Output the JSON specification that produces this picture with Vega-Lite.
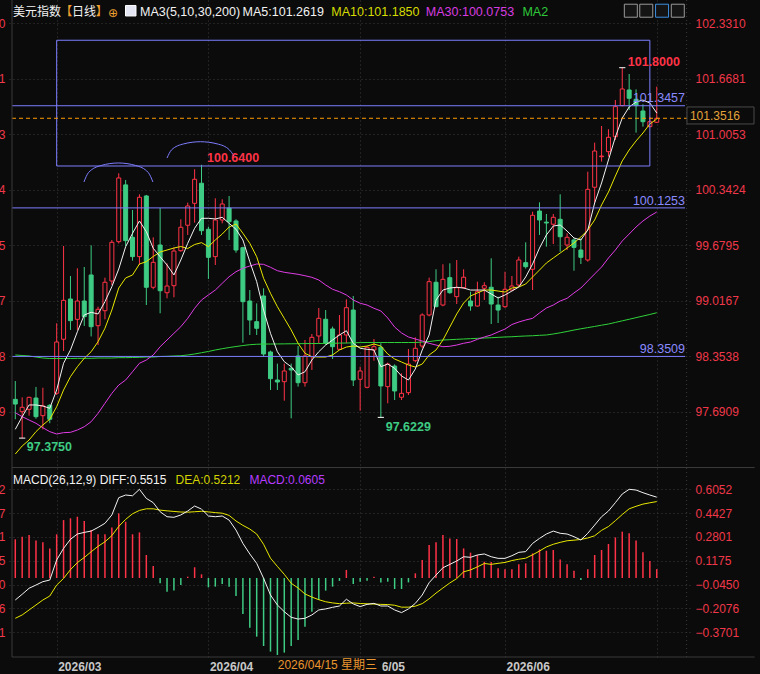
{
"$schema": "https://vega.github.io/schema/vega-lite/v6.json",
"width": 683, "height": 657,
"autosize": {"type": "none"},
"padding": {"left": 7, "top": 0, "right": 70, "bottom": 17},
"background": "#0b0b0b",
"config": {"view": {"stroke": null}, "font": "Liberation Sans"},
"data": {"values": [
{"i":0,"o":97.838,"h":98.057,"l":97.600,"c":97.782,"m5":97.480,"m10":97.185,"m30":97.679,"m200":98.368,"dif":-0.150,"dea":-0.275,"macd":0.264},
{"i":1,"o":97.691,"h":97.862,"l":97.375,"c":97.743,"m5":97.631,"m10":97.281,"m30":97.631,"m200":98.362,"dif":-0.111,"dea":-0.252,"macd":0.282},
{"i":2,"o":97.719,"h":97.870,"l":97.643,"c":97.862,"m5":97.771,"m10":97.352,"m30":97.591,"m200":98.356,"dif":-0.070,"dea":-0.218,"macd":0.293},
{"i":3,"o":97.854,"h":97.986,"l":97.607,"c":97.631,"m5":97.771,"m10":97.452,"m30":97.552,"m200":98.344,"dif":-0.048,"dea":-0.184,"macd":0.255},
{"i":4,"o":97.643,"h":97.977,"l":97.480,"c":97.759,"m5":97.759,"m10":97.532,"m30":97.499,"m200":98.332,"dif":-0.025,"dea":-0.150,"macd":0.243},
{"i":5,"o":97.767,"h":97.782,"l":97.553,"c":97.600,"m5":97.731,"m10":97.600,"m30":97.452,"m200":98.326,"dif":-0.014,"dea":-0.123,"macd":0.202},
{"i":6,"o":97.911,"h":98.747,"l":97.890,"c":98.523,"m5":97.950,"m10":97.750,"m30":97.424,"m200":98.326,"dif":0.123,"dea":-0.048,"macd":0.298},
{"i":7,"o":98.556,"h":99.670,"l":98.416,"c":99.021,"m5":98.269,"m10":97.950,"m30":97.440,"m200":98.326,"dif":0.202,"dea":-0.003,"macd":0.395},
{"i":8,"o":99.037,"h":99.312,"l":98.667,"c":98.778,"m5":98.428,"m10":98.109,"m30":97.444,"m200":98.326,"dif":0.264,"dea":0.057,"macd":0.407},
{"i":9,"o":98.794,"h":99.404,"l":98.667,"c":99.013,"m5":98.646,"m10":98.228,"m30":97.472,"m200":98.328,"dif":0.300,"dea":0.105,"macd":0.418},
{"i":10,"o":99.013,"h":99.419,"l":98.715,"c":98.826,"m5":98.846,"m10":98.328,"m30":97.511,"m200":98.328,"dif":0.311,"dea":0.140,"macd":0.389},
{"i":11,"o":99.324,"h":99.678,"l":98.590,"c":98.706,"m5":98.878,"m10":98.407,"m30":97.571,"m200":98.328,"dif":0.320,"dea":0.179,"macd":0.327},
{"i":12,"o":98.718,"h":98.945,"l":98.487,"c":98.914,"m5":98.858,"m10":98.527,"m30":97.671,"m200":98.332,"dif":0.345,"dea":0.216,"macd":0.298},
{"i":13,"o":98.897,"h":99.292,"l":98.794,"c":99.237,"m5":99.005,"m10":98.687,"m30":97.791,"m200":98.332,"dif":0.373,"dea":0.247,"macd":0.298},
{"i":14,"o":99.252,"h":99.742,"l":99.204,"c":99.714,"m5":99.184,"m10":98.905,"m30":97.910,"m200":98.332,"dif":0.430,"dea":0.289,"macd":0.345},
{"i":15,"o":99.722,"h":100.539,"l":99.700,"c":100.483,"m5":99.395,"m10":99.168,"m30":98.009,"m200":98.336,"dif":0.548,"dea":0.352,"macd":0.441},
{"i":16,"o":100.400,"h":100.459,"l":99.670,"c":99.734,"m5":99.662,"m10":99.288,"m30":98.069,"m200":98.336,"dif":0.566,"dea":0.400,"macd":0.384},
{"i":17,"o":99.774,"h":100.100,"l":99.495,"c":99.543,"m5":99.822,"m10":99.324,"m30":98.168,"m200":98.338,"dif":0.561,"dea":0.438,"macd":0.298},
{"i":18,"o":99.543,"h":100.288,"l":99.443,"c":100.252,"m5":99.969,"m10":99.455,"m30":98.269,"m200":98.340,"dif":0.605,"dea":0.461,"macd":0.311},
{"i":19,"o":100.268,"h":100.280,"l":98.965,"c":99.177,"m5":99.841,"m10":99.483,"m30":98.308,"m200":98.344,"dif":0.543,"dea":0.472,"macd":0.157},
{"i":20,"o":99.177,"h":99.774,"l":99.153,"c":99.475,"m5":99.643,"m10":99.545,"m30":98.368,"m200":98.344,"dif":0.514,"dea":0.472,"macd":0.082},
{"i":21,"o":99.682,"h":100.124,"l":98.866,"c":99.136,"m5":99.542,"m10":99.598,"m30":98.467,"m200":98.350,"dif":0.452,"dea":0.463,"macd":-0.036},
{"i":22,"o":99.112,"h":99.463,"l":99.045,"c":99.192,"m5":99.443,"m10":99.622,"m30":98.547,"m200":98.352,"dif":0.418,"dea":0.458,"macd":-0.093},
{"i":23,"o":99.196,"h":99.654,"l":99.057,"c":99.610,"m5":99.324,"m10":99.646,"m30":98.627,"m200":98.356,"dif":0.414,"dea":0.454,"macd":-0.086},
{"i":24,"o":99.614,"h":99.989,"l":99.602,"c":99.894,"m5":99.503,"m10":99.664,"m30":98.706,"m200":98.359,"dif":0.430,"dea":0.450,"macd":-0.048},
{"i":25,"o":99.918,"h":100.188,"l":99.802,"c":100.148,"m5":99.702,"m10":99.640,"m30":98.806,"m200":98.368,"dif":0.457,"dea":0.449,"macd":0.009},
{"i":26,"o":100.180,"h":100.587,"l":99.949,"c":100.467,"m5":99.882,"m10":99.688,"m30":98.926,"m200":98.380,"dif":0.491,"dea":0.452,"macd":0.073},
{"i":27,"o":100.420,"h":100.640,"l":99.802,"c":99.853,"m5":100.001,"m10":99.710,"m30":99.025,"m200":98.395,"dif":0.470,"dea":0.455,"macd":0.025},
{"i":28,"o":99.870,"h":99.901,"l":99.276,"c":99.535,"m5":100.001,"m10":99.662,"m30":99.085,"m200":98.410,"dif":0.423,"dea":0.451,"macd":-0.064},
{"i":29,"o":99.543,"h":100.240,"l":99.443,"c":99.981,"m5":99.993,"m10":99.742,"m30":99.144,"m200":98.428,"dif":0.418,"dea":0.446,"macd":-0.059},
{"i":30,"o":99.981,"h":100.228,"l":99.941,"c":100.172,"m5":100.013,"m10":99.813,"m30":99.224,"m200":98.443,"dif":0.423,"dea":0.442,"macd":-0.041},
{"i":31,"o":100.124,"h":100.268,"l":99.742,"c":99.961,"m5":99.941,"m10":99.897,"m30":99.303,"m200":98.457,"dif":0.395,"dea":0.427,"macd":-0.059},
{"i":32,"o":99.969,"h":99.989,"l":99.590,"c":99.622,"m5":99.870,"m10":99.933,"m30":99.363,"m200":98.469,"dif":0.327,"dea":0.389,"macd":-0.123},
{"i":33,"o":99.650,"h":99.662,"l":98.515,"c":99.005,"m5":99.742,"m10":99.822,"m30":99.404,"m200":98.481,"dif":0.236,"dea":0.359,"macd":-0.245},
{"i":34,"o":99.013,"h":99.144,"l":98.607,"c":98.786,"m5":99.483,"m10":99.702,"m30":99.431,"m200":98.491,"dif":0.164,"dea":0.334,"macd":-0.339},
{"i":35,"o":98.766,"h":98.985,"l":98.607,"c":98.687,"m5":99.244,"m10":99.542,"m30":99.455,"m200":98.496,"dif":0.100,"dea":0.300,"macd":-0.400},
{"i":36,"o":99.073,"h":99.165,"l":98.348,"c":98.380,"m5":98.905,"m10":99.284,"m30":99.451,"m200":98.499,"dif":-0.002,"dea":0.230,"macd":-0.464},
{"i":37,"o":98.404,"h":98.420,"l":97.950,"c":98.085,"m5":98.627,"m10":99.105,"m30":99.416,"m200":98.499,"dif":-0.116,"dea":0.135,"macd":-0.502},
{"i":38,"o":98.069,"h":98.265,"l":97.950,"c":98.045,"m5":98.407,"m10":98.945,"m30":99.375,"m200":98.500,"dif":-0.184,"dea":0.079,"macd":-0.525},
{"i":39,"o":98.049,"h":98.265,"l":97.822,"c":98.177,"m5":98.288,"m10":98.806,"m30":99.356,"m200":98.501,"dif":-0.230,"dea":0.025,"macd":-0.509},
{"i":40,"o":98.209,"h":98.265,"l":97.611,"c":98.189,"m5":98.228,"m10":98.667,"m30":99.344,"m200":98.502,"dif":-0.268,"dea":-0.036,"macd":-0.464},
{"i":41,"o":98.356,"h":98.475,"l":97.990,"c":98.037,"m5":98.129,"m10":98.508,"m30":99.332,"m200":98.503,"dif":-0.280,"dea":-0.068,"macd":-0.423},
{"i":42,"o":98.037,"h":98.547,"l":97.990,"c":98.356,"m5":98.168,"m10":98.388,"m30":99.315,"m200":98.504,"dif":-0.275,"dea":-0.109,"macd":-0.332},
{"i":43,"o":98.348,"h":98.619,"l":98.189,"c":98.579,"m5":98.308,"m10":98.348,"m30":99.296,"m200":98.505,"dif":-0.252,"dea":-0.130,"macd":-0.230},
{"i":44,"o":98.595,"h":98.929,"l":98.510,"c":98.806,"m5":98.407,"m10":98.344,"m30":99.264,"m200":98.505,"dif":-0.218,"dea":-0.148,"macd":-0.150},
{"i":45,"o":98.795,"h":98.905,"l":98.490,"c":98.508,"m5":98.487,"m10":98.344,"m30":99.204,"m200":98.507,"dif":-0.211,"dea":-0.162,"macd":-0.086},
{"i":46,"o":98.679,"h":98.707,"l":98.320,"c":98.467,"m5":98.547,"m10":98.368,"m30":99.153,"m200":98.507,"dif":-0.200,"dea":-0.170,"macd":-0.059},
{"i":47,"o":98.436,"h":98.846,"l":98.428,"c":98.607,"m5":98.607,"m10":98.428,"m30":99.124,"m200":98.510,"dif":-0.191,"dea":-0.175,"macd":-0.020},
{"i":48,"o":98.607,"h":99.033,"l":98.508,"c":98.933,"m5":98.658,"m10":98.463,"m30":99.085,"m200":98.511,"dif":-0.145,"dea":-0.172,"macd":0.055},
{"i":49,"o":98.905,"h":99.073,"l":97.997,"c":98.069,"m5":98.508,"m10":98.475,"m30":99.025,"m200":98.514,"dif":-0.177,"dea":-0.170,"macd":-0.041},
{"i":50,"o":98.078,"h":98.228,"l":97.702,"c":98.177,"m5":98.448,"m10":98.463,"m30":98.986,"m200":98.516,"dif":-0.195,"dea":-0.174,"macd":-0.025},
{"i":51,"o":97.982,"h":98.475,"l":97.970,"c":98.460,"m5":98.436,"m10":98.475,"m30":98.965,"m200":98.517,"dif":-0.180,"dea":-0.176,"macd":-0.018},
{"i":52,"o":98.428,"h":98.559,"l":98.300,"c":98.467,"m5":98.428,"m10":98.499,"m30":98.926,"m200":98.517,"dif":-0.173,"dea":-0.178,"macd":0.009},
{"i":53,"o":98.460,"h":98.508,"l":97.623,"c":97.998,"m5":98.228,"m10":98.475,"m30":98.894,"m200":98.517,"dif":-0.191,"dea":-0.180,"macd":-0.030},
{"i":54,"o":97.990,"h":98.276,"l":97.791,"c":98.260,"m5":98.260,"m10":98.380,"m30":98.810,"m200":98.517,"dif":-0.191,"dea":-0.181,"macd":-0.025},
{"i":55,"o":98.236,"h":98.256,"l":97.830,"c":97.938,"m5":98.209,"m10":98.320,"m30":98.702,"m200":98.517,"dif":-0.218,"dea":-0.186,"macd":-0.075},
{"i":56,"o":97.863,"h":98.149,"l":97.830,"c":97.910,"m5":98.117,"m10":98.284,"m30":98.631,"m200":98.517,"dif":-0.236,"dea":-0.199,"macd":-0.075},
{"i":57,"o":97.918,"h":98.439,"l":97.890,"c":98.260,"m5":98.069,"m10":98.248,"m30":98.583,"m200":98.517,"dif":-0.211,"dea":-0.199,"macd":-0.030},
{"i":58,"o":98.300,"h":98.579,"l":98.280,"c":98.448,"m5":98.201,"m10":98.224,"m30":98.559,"m200":98.517,"dif":-0.173,"dea":-0.192,"macd":0.032},
{"i":59,"o":98.475,"h":98.866,"l":98.450,"c":98.846,"m5":98.428,"m10":98.260,"m30":98.535,"m200":98.523,"dif":-0.116,"dea":-0.175,"macd":0.123},
{"i":60,"o":98.846,"h":99.292,"l":98.830,"c":99.244,"m5":98.607,"m10":98.368,"m30":98.508,"m200":98.529,"dif":-0.032,"dea":-0.142,"macd":0.225},
{"i":61,"o":99.237,"h":99.392,"l":98.938,"c":98.945,"m5":99.025,"m10":98.428,"m30":98.487,"m200":98.539,"dif":0.020,"dea":-0.103,"macd":0.243},
{"i":62,"o":98.965,"h":99.452,"l":98.950,"c":99.272,"m5":99.144,"m10":98.547,"m30":98.467,"m200":98.547,"dif":0.070,"dea":-0.068,"macd":0.293},
{"i":63,"o":99.292,"h":99.463,"l":99.100,"c":99.112,"m5":99.168,"m10":98.702,"m30":98.472,"m200":98.551,"dif":0.093,"dea":-0.034,"macd":0.270},
{"i":64,"o":99.065,"h":99.503,"l":98.977,"c":99.172,"m5":99.177,"m10":98.858,"m30":98.487,"m200":98.555,"dif":0.116,"dea":-0.004,"macd":0.266},
{"i":65,"o":99.172,"h":99.392,"l":99.160,"c":99.297,"m5":99.168,"m10":98.989,"m30":98.508,"m200":98.559,"dif":0.145,"dea":0.042,"macd":0.202},
{"i":66,"o":99.013,"h":99.124,"l":98.897,"c":98.953,"m5":99.144,"m10":99.073,"m30":98.523,"m200":98.563,"dif":0.141,"dea":0.055,"macd":0.173},
{"i":67,"o":98.953,"h":99.244,"l":98.945,"c":99.124,"m5":99.144,"m10":99.109,"m30":98.555,"m200":98.567,"dif":0.157,"dea":0.076,"macd":0.157},
{"i":68,"o":99.165,"h":99.237,"l":99.025,"c":99.196,"m5":99.144,"m10":99.144,"m30":98.583,"m200":98.571,"dif":0.164,"dea":0.099,"macd":0.111},
{"i":69,"o":99.177,"h":99.523,"l":98.738,"c":98.977,"m5":99.097,"m10":99.144,"m30":98.607,"m200":98.574,"dif":0.145,"dea":0.093,"macd":0.109},
{"i":70,"o":98.965,"h":99.065,"l":98.750,"c":98.905,"m5":99.049,"m10":99.132,"m30":98.643,"m200":98.579,"dif":0.134,"dea":0.100,"macd":0.066},
{"i":71,"o":98.945,"h":99.363,"l":98.930,"c":99.153,"m5":99.085,"m10":99.120,"m30":98.678,"m200":98.583,"dif":0.134,"dea":0.106,"macd":0.059},
{"i":72,"o":99.144,"h":99.312,"l":99.130,"c":99.192,"m5":99.132,"m10":99.168,"m30":98.732,"m200":98.586,"dif":0.152,"dea":0.119,"macd":0.059},
{"i":73,"o":99.204,"h":99.543,"l":99.190,"c":99.503,"m5":99.180,"m10":99.180,"m30":98.762,"m200":98.591,"dif":0.175,"dea":0.128,"macd":0.093},
{"i":74,"o":99.471,"h":99.714,"l":99.400,"c":99.423,"m5":99.300,"m10":99.216,"m30":98.786,"m200":98.595,"dif":0.180,"dea":0.135,"macd":0.100},
{"i":75,"o":99.392,"h":100.080,"l":99.144,"c":100.037,"m5":99.455,"m10":99.300,"m30":98.806,"m200":98.598,"dif":0.236,"dea":0.158,"macd":0.168},
{"i":76,"o":100.088,"h":100.192,"l":99.802,"c":99.981,"m5":99.646,"m10":99.383,"m30":98.870,"m200":98.603,"dif":0.270,"dea":0.184,"macd":0.195},
{"i":77,"o":99.955,"h":100.053,"l":99.662,"c":99.945,"m5":99.802,"m10":99.467,"m30":98.929,"m200":98.607,"dif":0.300,"dea":0.212,"macd":0.186},
{"i":78,"o":99.930,"h":100.053,"l":99.694,"c":100.013,"m5":99.909,"m10":99.527,"m30":98.965,"m200":98.619,"dif":0.320,"dea":0.230,"macd":0.191},
{"i":79,"o":99.989,"h":100.288,"l":99.602,"c":99.781,"m5":99.921,"m10":99.586,"m30":99.013,"m200":98.633,"dif":0.305,"dea":0.243,"macd":0.127},
{"i":80,"o":99.682,"h":99.822,"l":99.622,"c":99.774,"m5":99.849,"m10":99.646,"m30":99.045,"m200":98.649,"dif":0.300,"dea":0.254,"macd":0.093},
{"i":81,"o":99.742,"h":99.762,"l":99.375,"c":99.654,"m5":99.766,"m10":99.706,"m30":99.109,"m200":98.666,"dif":0.282,"dea":0.258,"macd":0.050},
{"i":82,"o":99.622,"h":99.762,"l":99.455,"c":99.535,"m5":99.742,"m10":99.778,"m30":99.168,"m200":98.681,"dif":0.259,"dea":0.263,"macd":-0.014},
{"i":83,"o":99.503,"h":100.558,"l":99.483,"c":100.347,"m5":99.861,"m10":99.861,"m30":99.252,"m200":98.695,"dif":0.305,"dea":0.273,"macd":0.059},
{"i":84,"o":100.372,"h":100.905,"l":100.188,"c":100.805,"m5":100.184,"m10":99.981,"m30":99.336,"m200":98.709,"dif":0.361,"dea":0.288,"macd":0.157},
{"i":85,"o":100.737,"h":101.104,"l":100.678,"c":100.745,"m5":100.423,"m10":100.160,"m30":99.419,"m200":98.724,"dif":0.418,"dea":0.325,"macd":0.191},
{"i":86,"o":100.797,"h":101.065,"l":100.737,"c":100.969,"m5":100.698,"m10":100.315,"m30":99.527,"m200":98.738,"dif":0.457,"dea":0.351,"macd":0.232},
{"i":87,"o":100.976,"h":101.415,"l":100.937,"c":101.335,"m5":100.972,"m10":100.506,"m30":99.622,"m200":98.757,"dif":0.514,"dea":0.391,"macd":0.277},
{"i":88,"o":101.347,"h":101.800,"l":101.340,"c":101.546,"m5":101.199,"m10":100.686,"m30":99.730,"m200":98.776,"dif":0.573,"dea":0.433,"macd":0.316},
{"i":89,"o":101.534,"h":101.725,"l":101.295,"c":101.435,"m5":101.331,"m10":100.817,"m30":99.813,"m200":98.795,"dif":0.605,"dea":0.472,"macd":0.305},
{"i":90,"o":101.423,"h":101.542,"l":101.024,"c":101.347,"m5":101.390,"m10":100.925,"m30":99.897,"m200":98.814,"dif":0.600,"dea":0.489,"macd":0.255},
{"i":91,"o":101.283,"h":101.363,"l":101.096,"c":101.155,"m5":101.414,"m10":101.020,"m30":99.969,"m200":98.833,"dif":0.582,"dea":0.504,"macd":0.175},
{"i":92,"o":101.096,"h":101.215,"l":101.090,"c":101.155,"m5":101.379,"m10":101.128,"m30":100.028,"m200":98.852,"dif":0.566,"dea":0.513,"macd":0.116},
{"i":93,"o":101.148,"h":101.574,"l":101.140,"c":101.196,"m5":101.259,"m10":101.187,"m30":100.076,"m200":98.873,"dif":0.5515,"dea":0.5212,"macd":0.0605}
]},
"layer": [
{"mark": {"type": "point", "opacity": 0},
 "encoding": {
  "x": {"field": "i", "type": "quantitative", "scale": {"domain": [-0.476, 97.096], "nice": false, "zero": false},
   "axis": {"orient": "bottom", "values": [6, 28, 50, 71, 93], "labelExpr": "datum.value==6?'2026/03':datum.value==28?'2026/04':datum.value==50?'2026/05':datum.value==71?'2026/06':''", "grid": true, "gridColor": "#3a3a3a", "gridDash": [1, 3], "domain": false, "ticks": false, "labelAlign": "left", "labelOffset": 1, "labelPadding": 4, "labelColor": "#c8c8c8", "labelFontWeight": "bold", "labelFontSize": 12, "labelFont": "Liberation Sans", "labelBound": false, "labelFlush": false, "labelOverlap": false, "title": null}},
  "y": {"field": "h", "type": "quantitative", "scale": {"domain": [94.76, 102.609], "nice": false, "zero": false},
   "axis": {"orient": "right", "values": [97.6909, 98.3538, 99.0167, 99.6795, 100.3424, 101.0053, 101.6681, 102.331], "format": ".4f", "grid": true, "gridColor": "#3a3a3a", "gridDash": [1, 3], "domain": false, "ticks": false, "labelPadding": 5, "labelColor": "#f0384a", "labelFontSize": 12, "labelFont": "Liberation Sans", "labelBound": false, "labelFlush": false, "labelOverlap": false, "title": null}}}},
{"mark": {"type": "point", "opacity": 0},
 "encoding": {
  "x": {"field": "i", "type": "quantitative", "axis": null},
  "y": {"field": "macd", "type": "quantitative", "scale": {"domain": [-0.5389, 3.9427], "nice": false, "zero": false},
   "axis": {"orient": "right", "values": [0.6052, 0.4427, 0.2801, 0.1175, -0.045, -0.2076, -0.3701], "format": ".4f", "grid": true, "gridColor": "#3a3a3a", "gridDash": [1, 3], "domain": false, "ticks": false, "labelPadding": 5, "labelColor": "#f0384a", "labelFontSize": 12, "labelFont": "Liberation Sans", "labelBound": false, "labelFlush": false, "labelOverlap": false, "title": null}}}},
{"mark": {"type": "point", "opacity": 0},
 "encoding": {
  "x": {"field": "i", "type": "quantitative", "axis": null},
  "y": {"field": "h", "type": "quantitative", "scale": {"domain": [94.76, 102.609], "nice": false, "zero": false},
   "axis": {"orient": "left", "values": [97.6909, 98.3538, 99.0167, 99.6795, 100.3424, 101.0053, 101.6681, 102.331], "format": ".4f", "grid": false, "domain": false, "ticks": false, "labelPadding": 2, "labelColor": "#f0384a", "labelFontSize": 12, "labelFont": "Liberation Sans", "labelBound": false, "labelFlush": false, "labelOverlap": false, "title": null}}}},
{"mark": {"type": "point", "opacity": 0},
 "encoding": {
  "x": {"field": "i", "type": "quantitative", "axis": null},
  "y": {"field": "macd", "type": "quantitative", "scale": {"domain": [-0.5389, 3.9427], "nice": false, "zero": false},
   "axis": {"orient": "left", "values": [0.6052, 0.4427, 0.2801, 0.1175, -0.045, -0.2076, -0.3701], "format": ".4f", "grid": false, "domain": false, "ticks": false, "labelPadding": 2, "labelColor": "#f0384a", "labelFontSize": 12, "labelFont": "Liberation Sans", "labelBound": false, "labelFlush": false, "labelOverlap": false, "title": null}}}},
{"layer": [
 {"mark": {"type": "rule", "strokeWidth": 1},
  "encoding": {
   "x": {"field": "i", "type": "quantitative", "axis": null},
   "y": {"field": "l", "type": "quantitative", "scale": {"domain": [94.76, 102.609], "nice": false, "zero": false}, "axis": null},
   "y2": {"field": "h"},
   "color": {"condition": {"test": "datum.c >= datum.o", "value": "#ff3347"}, "value": "#3ecb83"}}},
 {"mark": {"type": "bar", "size": 4, "strokeWidth": 1},
  "encoding": {
   "x": {"field": "i", "type": "quantitative", "axis": null},
   "y": {"field": "o", "type": "quantitative", "axis": null},
   "y2": {"field": "c"},
   "fill": {"condition": {"test": "datum.c >= datum.o", "value": "#0b0b0b"}, "value": "#3ecb83"},
   "stroke": {"condition": {"test": "datum.c >= datum.o", "value": "#ff3347"}, "value": "#3ecb83"}}},
 {"mark": {"type": "line", "strokeWidth": 1, "color": "#2fd23a"},
  "encoding": {"x": {"field": "i", "type": "quantitative", "axis": null}, "y": {"field": "m200", "type": "quantitative", "axis": null}}},
 {"mark": {"type": "line", "strokeWidth": 1, "color": "#e03ce6"},
  "encoding": {"x": {"field": "i", "type": "quantitative", "axis": null}, "y": {"field": "m30", "type": "quantitative", "axis": null}}},
 {"mark": {"type": "line", "strokeWidth": 1, "color": "#e8e800"},
  "encoding": {"x": {"field": "i", "type": "quantitative", "axis": null}, "y": {"field": "m10", "type": "quantitative", "axis": null}}},
 {"mark": {"type": "line", "strokeWidth": 1, "color": "#f2f2f2"},
  "encoding": {"x": {"field": "i", "type": "quantitative", "axis": null}, "y": {"field": "m5", "type": "quantitative", "axis": null}}},
 {"data": {"values": [{}]}, "mark": {"type": "rule", "stroke": "#ffffff", "strokeWidth": 1},
  "encoding": {"x": {"datum": 87.55, "type": "quantitative", "axis": null}, "x2": {"datum": 88.45}, "y": {"datum": 101.8, "type": "quantitative", "axis": null}}},
 {"data": {"values": [{}]}, "mark": {"type": "rule", "stroke": "#ffffff", "strokeWidth": 1},
  "encoding": {"x": {"datum": 0.55, "type": "quantitative", "axis": null}, "x2": {"datum": 1.45}, "y": {"datum": 97.375, "type": "quantitative", "axis": null}}},
 {"data": {"values": [{}]}, "mark": {"type": "rule", "stroke": "#ffffff", "strokeWidth": 1},
  "encoding": {"x": {"datum": 52.55, "type": "quantitative", "axis": null}, "x2": {"datum": 53.45}, "y": {"datum": 97.6229, "type": "quantitative", "axis": null}}},
 {"data": {"values": [{}]}, "mark": {"type": "rect", "fill": "#000000", "fillOpacity": 0, "stroke": "#7d7dff", "strokeWidth": 1},
  "encoding": {"x": {"datum": 6.0, "type": "quantitative", "axis": null}, "x2": {"datum": 92.0}, "y": {"datum": 102.128, "type": "quantitative", "axis": null}, "y2": {"datum": 100.626}}},
 {"data": {"values": [{}]}, "mark": {"type": "rule", "stroke": "#7d7dff", "strokeWidth": 1},
  "encoding": {"x": {"datum": -0.476, "type": "quantitative", "axis": null}, "x2": {"datum": 97.096}, "y": {"datum": 101.3457, "type": "quantitative", "axis": null}}},
 {"data": {"values": [{}]}, "mark": {"type": "rule", "stroke": "#7d7dff", "strokeWidth": 1},
  "encoding": {"x": {"datum": -0.476, "type": "quantitative", "axis": null}, "x2": {"datum": 97.096}, "y": {"datum": 100.1253, "type": "quantitative", "axis": null}}},
 {"data": {"values": [{}]}, "mark": {"type": "rule", "stroke": "#7d7dff", "strokeWidth": 1},
  "encoding": {"x": {"datum": -0.476, "type": "quantitative", "axis": null}, "x2": {"datum": 97.096}, "y": {"datum": 98.3509, "type": "quantitative", "axis": null}}},
 {"data": {"values": [{"i": 9.952, "p": 100.435}, {"i": 10.624, "p": 100.548}, {"i": 12.453, "p": 100.632}, {"i": 14.952, "p": 100.662}, {"i": 17.453, "p": 100.632}, {"i": 19.281, "p": 100.548}, {"i": 19.952, "p": 100.435}]},
  "mark": {"type": "line", "interpolate": "monotone", "stroke": "#7d7dff", "strokeWidth": 1},
  "encoding": {"x": {"field": "i", "type": "quantitative", "axis": null}, "y": {"field": "p", "type": "quantitative", "axis": null}}},
 {"data": {"values": [{"i": 22.0, "p": 100.721}, {"i": 22.65, "p": 100.818}, {"i": 24.42, "p": 100.89}, {"i": 26.85, "p": 100.916}, {"i": 29.28, "p": 100.89}, {"i": 31.05, "p": 100.818}, {"i": 31.71, "p": 100.745}]},
  "mark": {"type": "line", "interpolate": "monotone", "stroke": "#7d7dff", "strokeWidth": 1},
  "encoding": {"x": {"field": "i", "type": "quantitative", "axis": null}, "y": {"field": "p", "type": "quantitative", "axis": null}}},
 {"data": {"values": [{}]}, "mark": {"type": "rule", "stroke": "#ff9a00", "strokeWidth": 1, "strokeDash": [4, 3]},
  "encoding": {"x": {"datum": -0.476, "type": "quantitative", "axis": null}, "x2": {"datum": 97.38}, "y": {"datum": 101.196, "type": "quantitative", "axis": null}}},
 {"data": {"values": [{}]}, "mark": {"type": "rect", "fill": "#0b0b0b", "stroke": "#4a4a4a", "strokeWidth": 1},
  "encoding": {"x": {"datum": 97.38, "type": "quantitative", "axis": null}, "x2": {"datum": 107.1}, "y": {"datum": 101.331, "type": "quantitative", "axis": null}, "y2": {"datum": 101.128}}},
 {"data": {"values": [{}]}, "mark": {"type": "text", "align": "left", "baseline": "middle", "fontSize": 12, "color": "#e3a33a", "font": "Liberation Sans"},
  "encoding": {"x": {"datum": 97.81, "type": "quantitative", "axis": null}, "y": {"datum": 101.229, "type": "quantitative", "axis": null}, "text": {"value": "101.3516"}}},
 {"data": {"values": [{}]}, "mark": {"type": "text", "align": "left", "baseline": "middle", "fontSize": 12.5, "fontWeight": "bold", "color": "#ff3347", "font": "Liberation Sans"},
  "encoding": {"x": {"datum": 27.8, "type": "quantitative", "axis": null}, "y": {"datum": 100.721, "type": "quantitative", "axis": null}, "text": {"value": "100.6400"}}},
 {"data": {"values": [{}]}, "mark": {"type": "text", "align": "left", "baseline": "middle", "fontSize": 12.5, "fontWeight": "bold", "color": "#ff3347", "font": "Liberation Sans"},
  "encoding": {"x": {"datum": 88.8, "type": "quantitative", "axis": null}, "y": {"datum": 101.868, "type": "quantitative", "axis": null}, "text": {"value": "101.8000"}}},
 {"data": {"values": [{}]}, "mark": {"type": "text", "align": "left", "baseline": "middle", "fontSize": 12.5, "fontWeight": "bold", "color": "#3ecb83", "font": "Liberation Sans"},
  "encoding": {"x": {"datum": 1.67, "type": "quantitative", "axis": null}, "y": {"datum": 97.269, "type": "quantitative", "axis": null}, "text": {"value": "97.3750"}}},
 {"data": {"values": [{}]}, "mark": {"type": "text", "align": "left", "baseline": "middle", "fontSize": 12.5, "fontWeight": "bold", "color": "#3ecb83", "font": "Liberation Sans"},
  "encoding": {"x": {"datum": 53.7, "type": "quantitative", "axis": null}, "y": {"datum": 97.508, "type": "quantitative", "axis": null}, "text": {"value": "97.6229"}}},
 {"data": {"values": [{}]}, "mark": {"type": "text", "align": "right", "baseline": "middle", "fontSize": 12.5, "color": "#8a8aff", "font": "Liberation Sans"},
  "encoding": {"x": {"datum": 97.1, "type": "quantitative", "axis": null}, "y": {"datum": 101.438, "type": "quantitative", "axis": null}, "text": {"value": "101.3457"}}},
 {"data": {"values": [{}]}, "mark": {"type": "text", "align": "right", "baseline": "middle", "fontSize": 12.5, "color": "#8a8aff", "font": "Liberation Sans"},
  "encoding": {"x": {"datum": 97.1, "type": "quantitative", "axis": null}, "y": {"datum": 100.208, "type": "quantitative", "axis": null}, "text": {"value": "100.1253"}}},
 {"data": {"values": [{}]}, "mark": {"type": "text", "align": "right", "baseline": "middle", "fontSize": 12.5, "color": "#8a8aff", "font": "Liberation Sans"},
  "encoding": {"x": {"datum": 97.1, "type": "quantitative", "axis": null}, "y": {"datum": 98.434, "type": "quantitative", "axis": null}, "text": {"value": "98.3509"}}},
 {"data": {"values": [{}]}, "mark": {"type": "text", "align": "left", "baseline": "middle", "fontSize": 12, "color": "#f2f2f2", "font": "Noto Sans CJK SC"},
  "encoding": {"x": {"datum": -0.333, "type": "quantitative", "axis": null}, "y": {"datum": 102.466, "type": "quantitative", "axis": null}, "text": {"value": "美元指数"}}},
 {"data": {"values": [{}]}, "mark": {"type": "text", "align": "left", "baseline": "middle", "fontSize": 12, "color": "#f0a030", "font": "Noto Sans CJK SC"},
  "encoding": {"x": {"datum": 6.524, "type": "quantitative", "axis": null}, "y": {"datum": 102.466, "type": "quantitative", "axis": null}, "text": {"value": "【"}}},
 {"data": {"values": [{}]}, "mark": {"type": "text", "align": "left", "baseline": "middle", "fontSize": 12, "color": "#f2f2f2", "font": "Noto Sans CJK SC"},
  "encoding": {"x": {"datum": 8.239, "type": "quantitative", "axis": null}, "y": {"datum": 102.466, "type": "quantitative", "axis": null}, "text": {"value": "日线"}}},
 {"data": {"values": [{}]}, "mark": {"type": "text", "align": "left", "baseline": "middle", "fontSize": 12, "color": "#f0a030", "font": "Noto Sans CJK SC"},
  "encoding": {"x": {"datum": 11.667, "type": "quantitative", "axis": null}, "y": {"datum": 102.466, "type": "quantitative", "axis": null}, "text": {"value": "】"}}},
 {"data": {"values": [{}]}, "mark": {"type": "text", "align": "center", "baseline": "middle", "fontSize": 12, "color": "#f0a030", "font": "DejaVu Sans"},
  "encoding": {"x": {"datum": 14.17, "type": "quantitative", "axis": null}, "y": {"datum": 102.45, "type": "quantitative", "axis": null}, "text": {"value": "⊕"}}},
 {"data": {"values": [{}]}, "mark": {"type": "point", "shape": "square", "size": 110, "filled": true, "fill": "#e4e6f4", "stroke": "#ffffff", "strokeWidth": 1, "opacity": 1},
  "encoding": {"x": {"datum": 16.74, "type": "quantitative", "axis": null}, "y": {"datum": 102.481, "type": "quantitative", "axis": null}}},
 {"data": {"values": [{}]}, "mark": {"type": "text", "align": "left", "baseline": "middle", "fontSize": 12.5, "color": "#f2f2f2", "font": "Liberation Sans"},
  "encoding": {"x": {"datum": 18.09, "type": "quantitative", "axis": null}, "y": {"datum": 102.466, "type": "quantitative", "axis": null}, "text": {"value": "MA3(5,10,30,200)"}}},
 {"data": {"values": [{}]}, "mark": {"type": "text", "align": "left", "baseline": "middle", "fontSize": 12.5, "color": "#f2f2f2", "font": "Liberation Sans"},
  "encoding": {"x": {"datum": 32.95, "type": "quantitative", "axis": null}, "y": {"datum": 102.466, "type": "quantitative", "axis": null}, "text": {"value": "MA5:101.2619"}}},
 {"data": {"values": [{}]}, "mark": {"type": "text", "align": "left", "baseline": "middle", "fontSize": 12.5, "color": "#d6dc00", "font": "Liberation Sans"},
  "encoding": {"x": {"datum": 45.81, "type": "quantitative", "axis": null}, "y": {"datum": 102.466, "type": "quantitative", "axis": null}, "text": {"value": "MA10:101.1850"}}},
 {"data": {"values": [{}]}, "mark": {"type": "text", "align": "left", "baseline": "middle", "fontSize": 12.5, "color": "#d83ce0", "font": "Liberation Sans"},
  "encoding": {"x": {"datum": 59.52, "type": "quantitative", "axis": null}, "y": {"datum": 102.466, "type": "quantitative", "axis": null}, "text": {"value": "MA30:100.0753"}}},
 {"data": {"values": [{}]}, "mark": {"type": "text", "align": "left", "baseline": "middle", "fontSize": 12.5, "color": "#2ec83a", "font": "Liberation Sans"},
  "encoding": {"x": {"datum": 73.52, "type": "quantitative", "axis": null}, "y": {"datum": 102.466, "type": "quantitative", "axis": null}, "text": {"value": "MA2"}}},
 {"data": {"values": [{}]}, "mark": {"type": "point", "shape": "square", "size": 169, "filled": true, "fill": "#141414", "stroke": "#9a9a9a", "strokeWidth": 1, "opacity": 1},
  "encoding": {"x": {"datum": 89.24, "type": "quantitative", "axis": null}, "y": {"datum": 102.481, "type": "quantitative", "axis": null}}},
 {"data": {"values": [{}]}, "mark": {"type": "point", "shape": "square", "size": 169, "filled": true, "fill": "#141414", "stroke": "#9a9a9a", "strokeWidth": 1, "opacity": 1},
  "encoding": {"x": {"datum": 91.48, "type": "quantitative", "axis": null}, "y": {"datum": 102.481, "type": "quantitative", "axis": null}}},
 {"data": {"values": [{}]}, "mark": {"type": "point", "shape": "square", "size": 169, "filled": true, "fill": "#141414", "stroke": "#3d8fe0", "strokeWidth": 1, "opacity": 1},
  "encoding": {"x": {"datum": 93.77, "type": "quantitative", "axis": null}, "y": {"datum": 102.481, "type": "quantitative", "axis": null}}},
 {"data": {"values": [{}]}, "mark": {"type": "point", "shape": "square", "size": 169, "filled": true, "fill": "#141414", "stroke": "#9a9a9a", "strokeWidth": 1, "opacity": 1},
  "encoding": {"x": {"datum": 96.05, "type": "quantitative", "axis": null}, "y": {"datum": 102.481, "type": "quantitative", "axis": null}}}
]},
{"layer": [
 {"mark": {"type": "rule", "strokeWidth": 1.5},
  "encoding": {
   "x": {"field": "i", "type": "quantitative", "axis": null},
   "y": {"field": "macd", "type": "quantitative", "scale": {"domain": [-0.5389, 3.9427], "nice": false, "zero": false}, "axis": null},
   "y2": {"datum": 0},
   "color": {"condition": {"test": "datum.macd >= 0", "value": "#ff3347"}, "value": "#3ecb83"}}},
 {"mark": {"type": "line", "strokeWidth": 1, "color": "#e8e800"},
  "encoding": {"x": {"field": "i", "type": "quantitative", "axis": null}, "y": {"field": "dea", "type": "quantitative", "axis": null}}},
 {"mark": {"type": "line", "strokeWidth": 1, "color": "#f2f2f2"},
  "encoding": {"x": {"field": "i", "type": "quantitative", "axis": null}, "y": {"field": "dif", "type": "quantitative", "axis": null}}},
 {"data": {"values": [{}]}, "mark": {"type": "rule", "stroke": "#3a3a3a", "strokeWidth": 1},
  "encoding": {"x": {"datum": -0.476, "type": "quantitative", "axis": null}, "x2": {"datum": 107.2}, "y": {"datum": 0.7537, "type": "quantitative", "axis": null}}},
 {"data": {"values": [{}]}, "mark": {"type": "rule", "stroke": "#3a3a3a", "strokeWidth": 1},
  "encoding": {"x": {"datum": -0.476, "type": "quantitative", "axis": null}, "x2": {"datum": 107.2}, "y": {"datum": -0.5389, "type": "quantitative", "axis": null}}},
 {"data": {"values": [{}]}, "mark": {"type": "rule", "stroke": "#3a3a3a", "strokeWidth": 1},
  "encoding": {"x": {"datum": -0.476, "type": "quantitative", "axis": null}, "y": {"datum": 3.9427, "type": "quantitative", "axis": null}, "y2": {"datum": -0.5389}}},
 {"data": {"values": [{}]}, "mark": {"type": "rule", "stroke": "#3a3a3a", "strokeWidth": 1, "strokeDash": [1, 3]},
  "encoding": {"x": {"datum": 97.33, "type": "quantitative", "axis": null}, "y": {"datum": 3.9427, "type": "quantitative", "axis": null}, "y2": {"datum": -0.5389}}},
 {"data": {"values": [{}]}, "mark": {"type": "text", "align": "left", "baseline": "middle", "fontSize": 12, "color": "#f2f2f2", "font": "Liberation Sans"},
  "encoding": {"x": {"datum": -0.333, "type": "quantitative", "axis": null}, "y": {"datum": 0.6685, "type": "quantitative", "axis": null}, "text": {"value": "MACD(26,12,9) DIFF:0.5515"}}},
 {"data": {"values": [{}]}, "mark": {"type": "text", "align": "left", "baseline": "middle", "fontSize": 12, "color": "#d2d200", "font": "Liberation Sans"},
  "encoding": {"x": {"datum": 23.24, "type": "quantitative", "axis": null}, "y": {"datum": 0.6685, "type": "quantitative", "axis": null}, "text": {"value": "DEA:0.5212"}}},
 {"data": {"values": [{}]}, "mark": {"type": "text", "align": "left", "baseline": "middle", "fontSize": 12, "color": "#b63cff", "font": "Liberation Sans"},
  "encoding": {"x": {"datum": 33.95, "type": "quantitative", "axis": null}, "y": {"datum": 0.6685, "type": "quantitative", "axis": null}, "text": {"value": "MACD:0.0605"}}},
 {"data": {"values": [{}]}, "mark": {"type": "rect", "fill": "#0b0b0b"},
  "encoding": {"x": {"datum": 37.6, "type": "quantitative", "axis": null}, "x2": {"datum": 53.2}, "y": {"datum": -0.545, "type": "quantitative", "axis": null}, "y2": {"datum": -0.66}}},
 {"data": {"values": [{}]}, "mark": {"type": "text", "align": "left", "baseline": "middle", "fontSize": 12, "color": "#ea952e", "font": "Liberation Sans, Noto Sans CJK SC"},
  "encoding": {"x": {"datum": 38.05, "type": "quantitative", "axis": null}, "y": {"datum": -0.5935, "type": "quantitative", "axis": null}, "text": {"value": "2026/04/15 星期三"}}}
]}
],
"resolve": {"scale": {"y": "independent"}, "axis": {"y": "independent", "x": "independent"}}
}
